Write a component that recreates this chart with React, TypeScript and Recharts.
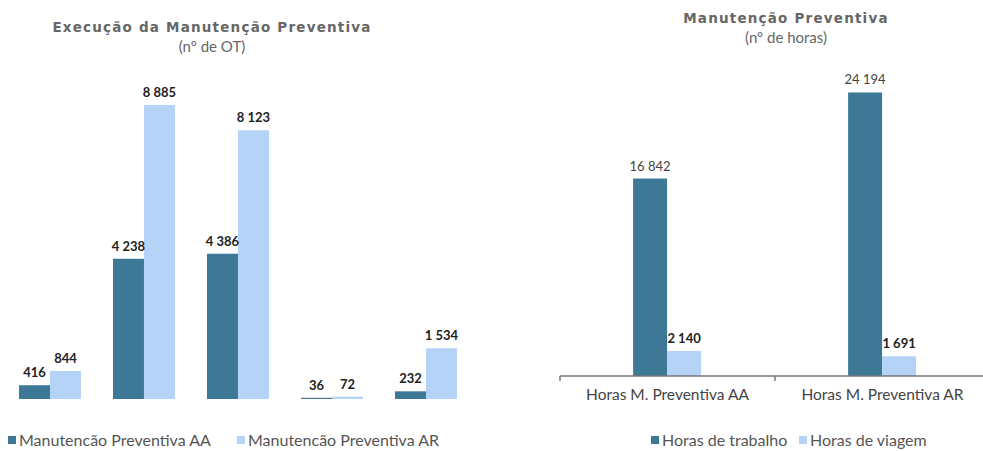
import React from 'react';
import { Bar, BarChart, LabelList, XAxis, YAxis } from 'recharts';

// Execução da manutenção preventiva (nº de OT), por grupo
const otGroups = ['G1', 'G2', 'G3', 'G4', 'G5'];
const otAA = [416, 4238, 4386, 36, 232];
const otAR = [844, 8885, 8123, 72, 1534];

// Manutenção preventiva (nº de horas)
const hourCategories = ['Horas M. Preventiva AA', 'Horas M. Preventiva AR'];
const hoursWork = [16842, 24194];
const hoursTravel = [2140, 1691];

const DARK = '#3d7896';
const LIGHT = '#b5d3f7';
const FONT = 'Lato, "Open Sans", sans-serif';

// thousands separated by a non-breaking space so the label stays on one line
const fmt = (v: unknown) => String(v).replace(/\B(?=(\d{3})+(?!\d))/g, '\u00a0');

const otData = otGroups.map((g, i) => ({ group: g, aa: otAA[i], ar: otAR[i] }));
const hoursData = hourCategories.map((c, i) => ({ cat: c, work: hoursWork[i], travel: hoursTravel[i] }));

function Title({ text, sub, left, width, top }: { text: string; sub: string; left: number; width: number; top: number }) {
  return (
    <div style={{ position: 'absolute', left, top, width, textAlign: 'center', color: '#666', fontFamily: FONT }}>
      <div style={{ fontFamily: '"DejaVu Sans", sans-serif', fontWeight: 'bold', fontSize: 13.5, letterSpacing: 1.2, lineHeight: '18px' }}>{text}</div>
      <div style={{ fontSize: 15, lineHeight: '20px', color: '#666' }}>{sub}</div>
    </div>
  );
}

function LegendItem({ left, color, label }: { left: number; color: string; label: string }) {
  return (
    <div style={{ position: 'absolute', left, top: 430, display: 'flex', alignItems: 'center', fontFamily: FONT, fontSize: 16, color: '#555', whiteSpace: 'nowrap' }}>
      <span style={{ display: 'inline-block', width: 8, height: 8, background: color, marginRight: 3 }} />
      {label}
    </div>
  );
}

// category tick with the small boundary mark at the left edge of each band
function HourTick(props: any) {
  const { x, y, payload } = props;
  const half = payload?.offset ?? 0;
  return (
    <g>
      <line x1={x - half} x2={x - half} y1={y - 8} y2={y - 3} stroke="#777" strokeWidth={1.5} />
      <text x={x} y={y + 16} textAnchor="middle" fill="#444" fontSize={15.5} fontFamily={FONT}>
        {payload.value}
      </text>
    </g>
  );
}

export default function App() {
  return (
    <div style={{ position: 'fixed', left: 0, top: 0, width: 983, height: 451, overflow: 'hidden', background: '#fff' }}>
      <Title text="Execução da Manutenção Preventiva" sub="(nº de OT)" left={0} width={424} top={18} />
      <Title text="Manutenção Preventiva" sub="(nº de horas)" left={584} width={404} top={9} />

      <div style={{ position: 'absolute', left: 0, top: 0 }}>
        <BarChart width={480} height={451} data={otData} margin={{ top: 68, right: 7, bottom: 52, left: 3 }} barCategoryGap="17%" barGap={0}>
          <XAxis dataKey="group" hide />
          <YAxis hide domain={[0, 10000]} />
          <Bar dataKey="aa" fill={DARK} isAnimationActive={false}>
            <LabelList dataKey="aa" position="top" offset={8} formatter={fmt} fill="#222" fontWeight="bold" fontSize={13} fontFamily={FONT} />
          </Bar>
          <Bar dataKey="ar" fill={LIGHT} isAnimationActive={false}>
            <LabelList dataKey="ar" position="top" offset={8} formatter={fmt} fill="#222" fontWeight="bold" fontSize={13} fontFamily={FONT} />
          </Bar>
        </BarChart>
      </div>

      <div style={{ position: 'absolute', left: 540, top: 0 }}>
        <BarChart width={460} height={451} data={hoursData} margin={{ top: 83, right: 10, bottom: 45, left: 20 }} barCategoryGap="34%" barGap={0}>
          <XAxis
            dataKey="cat"
            axisLine={{ stroke: '#777', strokeWidth: 1.5 }}
            tickLine={false}
            tick={<HourTick />}
            interval={0}
            height={30}
          />
          <YAxis hide domain={[0, 25000]} />
          <Bar dataKey="work" fill={DARK} isAnimationActive={false}>
            <LabelList dataKey="work" position="top" offset={8} formatter={fmt} fill="#444" fontSize={13} fontFamily={FONT} />
          </Bar>
          <Bar dataKey="travel" fill={LIGHT} isAnimationActive={false}>
            <LabelList dataKey="travel" position="top" offset={8} formatter={fmt} fill="#222" fontWeight="bold" fontSize={13} fontFamily={FONT} />
          </Bar>
        </BarChart>
      </div>

      <LegendItem left={8} color={DARK} label="Manutencão Preventiva AA" />
      <LegendItem left={237} color={LIGHT} label="Manutencão Preventiva AR" />
      <LegendItem left={651} color={DARK} label="Horas de trabalho" />
      <LegendItem left={799} color={LIGHT} label="Horas de viagem" />
    </div>
  );
}
